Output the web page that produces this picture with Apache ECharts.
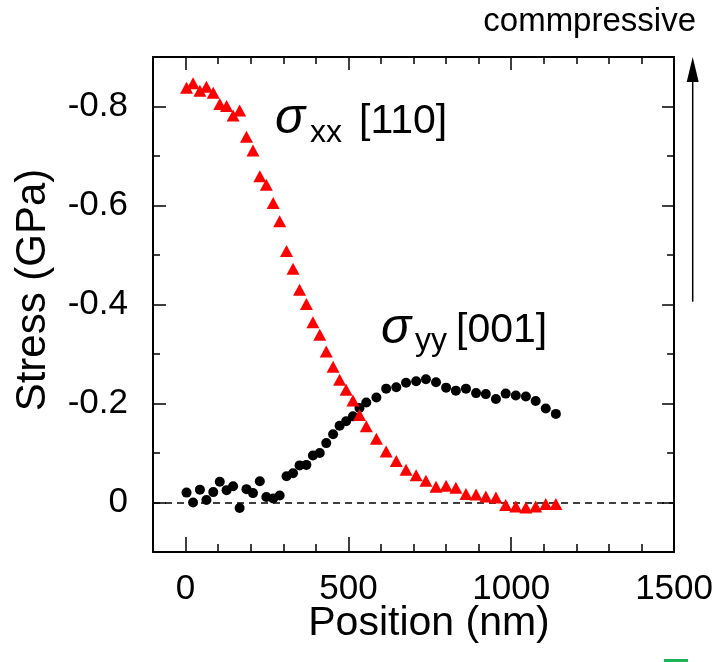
<!DOCTYPE html>
<html>
<head>
<meta charset="utf-8">
<script src="https://cdn.jsdelivr.net/npm/echarts@6/dist/echarts.min.js"></script>
<style>
  html, body { margin: 0; padding: 0; background: #fff; }
  #chart { width: 716px; height: 662px; }
</style>
</head>
<body>
<div id="chart"></div>
<script>
// Position along the scan (nm), shared by both stress components
const positionNm = [3, 23, 44, 64, 85, 105, 126, 146, 166, 187, 207, 228, 248, 269, 289,
  310, 330, 350, 371, 391, 412, 432, 453, 473, 493, 514, 534, 555, 586, 616, 647, 677,
  708, 738, 769, 800, 830, 861, 892, 922, 953, 983, 1014, 1045, 1075, 1106, 1137];

// sigma_xx along [110] (GPa)
const sigmaXX = [-0.838, -0.847, -0.832, -0.840, -0.828, -0.805, -0.801, -0.782, -0.792, -0.739,
  -0.711, -0.659, -0.642, -0.605, -0.568, -0.508, -0.472, -0.430, -0.401, -0.364,
  -0.339, -0.305, -0.274, -0.248, -0.228, -0.206, -0.177, -0.154, -0.129, -0.103,
  -0.084, -0.066, -0.055, -0.044, -0.032, -0.034, -0.030, -0.017, -0.016, -0.012,
  -0.010, 0.005, 0.008, 0.010, 0.008, 0.003, 0.003];

// sigma_yy along [001] (GPa)
const sigmaYY = [-0.020, 0.000, -0.026, -0.005, -0.021, -0.042, -0.025, -0.033, 0.011, -0.027,
  -0.019, -0.043, -0.011, -0.008, -0.014, -0.053, -0.059, -0.075, -0.076, -0.095,
  -0.100, -0.120, -0.138, -0.155, -0.164, -0.174, -0.191, -0.202, -0.212, -0.230,
  -0.233, -0.242, -0.245, -0.249, -0.243, -0.232, -0.226, -0.230, -0.221, -0.219,
  -0.209, -0.220, -0.216, -0.214, -0.205, -0.190, -0.179];

// Axis ranges and tick positions
const xRange = [-100, 1500];
const yRange = [-0.9, 0.1];
const xMajorTicks = [0, 500, 1000, 1500];
const xMinorTicks = [100, 200, 300, 400, 600, 700, 800, 900, 1100, 1200, 1300, 1400];
const yMajorTicks = [-0.8, -0.6, -0.4, -0.2, 0];
const yMinorTicks = [-0.7, -0.5, -0.3, -0.1];

const FONT = "'Liberation Sans', Arial, Helvetica, sans-serif";
const axisLineStyle = { color: '#000', width: 2 };

function xAxisDef(position, ticks, len, showLine, showLabels) {
  return {
    type: 'value', gridIndex: 0, position: position,
    min: xRange[0], max: xRange[1],
    axisLine: { show: showLine, onZero: false, lineStyle: axisLineStyle },
    axisTick: { show: true, inside: true, length: len, customValues: ticks,
      lineStyle: { color: '#000', width: 1.5 } },
    axisLabel: showLabels ? {
      show: true, customValues: ticks, margin: 20, color: '#000',
      fontSize: 35, fontFamily: FONT, formatter: v => String(v)
    } : { show: false },
    splitLine: { show: false }
  };
}

function yAxisDef(position, ticks, len, showLine, showLabels) {
  return {
    type: 'value', gridIndex: 0, position: position, inverse: true,
    min: yRange[0], max: yRange[1],
    axisLine: { show: showLine, onZero: false, lineStyle: axisLineStyle },
    axisTick: { show: true, inside: true, length: len, customValues: ticks,
      lineStyle: { color: '#000', width: 1.5 } },
    axisLabel: showLabels ? {
      show: true, customValues: ticks, margin: 25, color: '#000',
      fontSize: 35, fontFamily: FONT,
      formatter: v => (Math.abs(v) < 1e-9 ? '0' : v.toFixed(1))
    } : { show: false },
    splitLine: { show: false }
  };
}

const chart = echarts.init(document.getElementById('chart'), null, { renderer: 'canvas' });

chart.setOption({
  animation: false,
  backgroundColor: '#fff',
  grid: { left: 153, top: 57, width: 522, height: 495, containLabel: false },
  xAxis: [
    xAxisDef('bottom', xMajorTicks, 15, true, true),
    xAxisDef('bottom', xMinorTicks, 8, false, false),
    xAxisDef('top', xMajorTicks, 13, true, false),
    xAxisDef('top', xMinorTicks, 7, false, false)
  ],
  yAxis: [
    yAxisDef('left', yMajorTicks, 13, true, true),
    yAxisDef('left', yMinorTicks, 7, false, false),
    yAxisDef('right', yMajorTicks, 12, true, false),
    yAxisDef('right', yMinorTicks, 7, false, false)
  ],
  series: [
    {
      name: 'sigma_yy [001]',
      type: 'scatter',
      xAxisIndex: 0, yAxisIndex: 0,
      symbol: 'circle', symbolSize: 10,
      itemStyle: { color: '#000', opacity: 1 },
      data: positionNm.map((x, i) => [x, sigmaYY[i]]),
      z: 3,
      markLine: {
        silent: true, symbol: 'none', animation: false,
        label: { show: false },
        lineStyle: { color: '#000', width: 1.5, type: [7, 5], opacity: 1 },
        data: [{ yAxis: 0 }],
        z: 1
      }
    },
    {
      name: 'sigma_xx [110]',
      type: 'scatter',
      xAxisIndex: 0, yAxisIndex: 0,
      symbol: 'triangle', symbolSize: [13, 12],
      itemStyle: { color: '#ff0000', opacity: 1 },
      data: positionNm.map((x, i) => [x, sigmaXX[i]]),
      z: 4
    }
  ],
  graphic: [
    // axis titles
    { type: 'text', x: 429, y: 624, z: 10,
      style: { text: 'Position (nm)', fill: '#000', fontSize: 41, fontFamily: FONT,
        align: 'center', verticalAlign: 'middle' } },
    { type: 'text', x: 33, y: 290, rotation: Math.PI / 2, z: 10,
      style: { text: 'Stress (GPa)', fill: '#000', fontSize: 42, fontFamily: FONT,
        align: 'center', verticalAlign: 'middle' } },
    // compressive direction marker
    { type: 'text', x: 696, y: 22, z: 10,
      style: { text: 'commpressive', fill: '#000', fontSize: 33, fontFamily: FONT,
        align: 'right', verticalAlign: 'middle' } },
    { type: 'line', z: 10,
      shape: { x1: 692.7, y1: 301.7, x2: 692.7, y2: 76 },
      style: { stroke: '#000', lineWidth: 1.5 } },
    { type: 'polygon', z: 10,
      shape: { points: [[692.7, 57], [686.7, 82], [698.7, 82]] },
      style: { fill: '#000' } },
    // series annotations
    { type: 'text', x: 275, y: 119, z: 10,
      style: { text: 'σ', fill: '#000', fontSize: 50, fontStyle: 'italic', fontFamily: FONT,
        align: 'left', verticalAlign: 'middle' } },
    { type: 'text', x: 310, y: 133, z: 10,
      style: { text: 'xx', fill: '#000', fontSize: 32, fontFamily: FONT,
        align: 'left', verticalAlign: 'middle' } },
    { type: 'text', x: 359, y: 121.5, z: 10,
      style: { text: '[110]', fill: '#000', fontSize: 41, fontFamily: FONT,
        align: 'left', verticalAlign: 'middle' } },
    { type: 'text', x: 381, y: 329, z: 10,
      style: { text: 'σ', fill: '#000', fontSize: 50, fontStyle: 'italic', fontFamily: FONT,
        align: 'left', verticalAlign: 'middle' } },
    { type: 'text', x: 415, y: 341, z: 10,
      style: { text: 'yy', fill: '#000', fontSize: 32, fontFamily: FONT,
        align: 'left', verticalAlign: 'middle' } },
    { type: 'text', x: 456, y: 331, z: 10,
      style: { text: '[001]', fill: '#000', fontSize: 41, fontFamily: FONT,
        align: 'left', verticalAlign: 'middle' } },
    // small green mark at the lower edge
    { type: 'rect', z: 10, shape: { x: 664, y: 659, width: 24, height: 3 },
      style: { fill: '#1fb25a' } },
    { type: 'rect', z: 10, shape: { x: 674, y: 661, width: 4, height: 1 },
      style: { fill: '#1fb25a' } }
  ]
});
</script>
</body>
</html>
